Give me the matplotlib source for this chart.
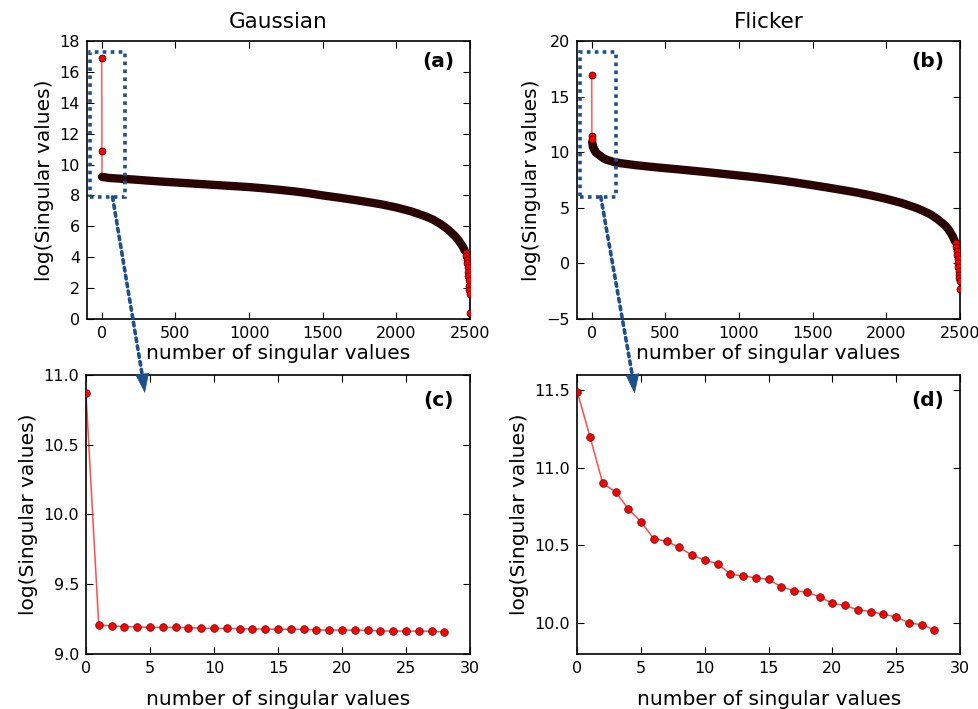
import matplotlib

matplotlib.use("Agg")
import matplotlib.pyplot as plt
from matplotlib.patches import ConnectionPatch, Rectangle

# --- values -------------------------------------------------------------
# Gaussian: first singular value, then indices 1..29 (these are what panel (c)
# shows as 0..28), then a sampled body and the steep tail.
GAUSS_FIRST = 16.9
GAUSS_ZOOM = [10.87, 9.205, 9.203, 9.196, 9.195, 9.191, 9.190, 9.190, 9.189,
              9.185, 9.183, 9.183, 9.182, 9.179, 9.179, 9.178, 9.178, 9.177,
              9.172, 9.172, 9.171, 9.171, 9.170, 9.165, 9.165, 9.164, 9.164,
              9.163, 9.158]
GAUSS_BODY_IDX = [50, 100, 200, 300, 400, 500, 600, 700, 800, 900, 1000,
                  1100, 1200, 1300, 1400, 1500, 1600, 1700, 1800, 1900, 2000,
                  2100, 2200, 2250, 2300, 2350, 2400, 2425, 2450, 2465]
GAUSS_BODY = [9.13, 9.10, 9.04, 8.97, 8.90, 8.84, 8.78, 8.72, 8.66, 8.60,
              8.54, 8.46, 8.37, 8.27, 8.15, 8.00, 7.87, 7.73, 7.58, 7.42,
              7.22, 6.97, 6.64, 6.43, 6.15, 5.80, 5.35, 5.05, 4.70, 4.42]
GAUSS_TAIL_IDX = [2470, 2474, 2478, 2481, 2484, 2487, 2489, 2491, 2493, 2495,
                  2497, 2499]
GAUSS_TAIL = [4.30, 4.10, 3.85, 3.60, 3.35, 3.05, 2.80, 2.50, 2.15, 1.85,
              1.60, 0.40]

FLICK_FIRST = 16.9
FLICK_ZOOM = [11.49, 11.20, 10.90, 10.846, 10.736, 10.652, 10.543, 10.528,
              10.487, 10.437, 10.405, 10.383, 10.314, 10.303, 10.292, 10.281,
              10.232, 10.208, 10.199, 10.169, 10.126, 10.113, 10.084, 10.074,
              10.056, 10.039, 10.000, 9.989, 9.955]
FLICK_BODY_IDX = [50, 80, 100, 150, 200, 300, 400, 500, 600, 700, 800, 900,
                  1000, 1100, 1200, 1300, 1400, 1500, 1600, 1700, 1800, 1900,
                  2000, 2100, 2200, 2250, 2300, 2350, 2400, 2425, 2450, 2465]
FLICK_BODY = [9.75, 9.45, 9.32, 9.12, 9.00, 8.83, 8.69, 8.56, 8.44, 8.31,
              8.18, 8.04, 7.90, 7.76, 7.60, 7.43, 7.24, 7.03, 6.82, 6.60,
              6.37, 6.10, 5.80, 5.45, 5.00, 4.72, 4.40, 3.95, 3.40, 3.00,
              2.45, 2.00]
FLICK_TAIL_IDX = [2470, 2474, 2478, 2481, 2484, 2487, 2489, 2491, 2493, 2495,
                  2497, 2499]
FLICK_TAIL = [1.80, 1.45, 1.10, 0.75, 0.40, 0.00, -0.35, -0.70, -1.05, -1.35,
              -1.60, -2.30]

RED = "red"
BAND = "#2a0303"
BLUE = "#1c4f8c"
DOTS = (0, (1, 1.2))

plt.rcParams.update({
    "font.family": "DejaVu Sans",
    "xtick.direction": "in",
    "ytick.direction": "in",
    "xtick.top": True,
    "ytick.right": True,
    "xtick.major.size": 5,
    "ytick.major.size": 5,
    "xtick.labelsize": 11.5,
    "ytick.labelsize": 11.5,
    "axes.linewidth": 1.2,
    "xtick.major.pad": 5,
    "ytick.major.pad": 5,
})


def draw_top(ax, first, zoom, body_idx, body, tail_idx, tail, band_from):
    idx = [0] + list(range(1, len(zoom) + 1)) + body_idx + tail_idx
    vals = [first] + zoom + body + tail
    ax.plot(idx, vals, color=RED, lw=1, alpha=0.7, zorder=2)
    # 2500 overlapping black-edged markers merge into a dark band
    n_band = len(idx) - len(tail_idx)
    ax.plot(idx[band_from:n_band], vals[band_from:n_band], color=BAND,
            lw=6.0, solid_capstyle="round", solid_joinstyle="round", zorder=3)
    mk = dict(ls="none", marker="o", ms=5, mfc=RED, mec="#300000", mew=0.5,
              zorder=4)
    ax.plot(idx[:band_from], vals[:band_from], **mk)
    ax.plot(tail_idx, tail, **mk)
    ax.set_xlim(-100, 2500)
    ax.set_xticks([0, 500, 1000, 1500, 2000, 2500])
    ax.set_xlabel("number of singular values", fontsize=14.5, labelpad=2)
    ax.set_ylabel("log(Singular values)", fontsize=14.5)


def draw_zoom(ax, vals):
    ax.plot(range(len(vals)), vals, color=RED, lw=1.1, alpha=0.7, zorder=2)
    ax.plot(range(len(vals)), vals, ls="none", marker="o", ms=5.5, mfc=RED,
            mec="#5a2020", mew=0.6, zorder=3)
    ax.set_xlim(0, 30)
    ax.set_xticks(range(0, 31, 5))
    ax.set_xlabel("number of singular values", fontsize=14.5, labelpad=10)
    ax.set_ylabel("log(Singular values)", fontsize=14.5)


def tag(ax, text, y):
    ax.text(0.958, y, text, transform=ax.transAxes, ha="right", va="center",
            fontsize=14.5, fontweight="bold")


fig = plt.figure(figsize=(9.79, 7.09), dpi=100)
ax_a = fig.add_axes([0.0889, 0.5501, 0.3912, 0.3921])
ax_b = fig.add_axes([0.5894, 0.5501, 0.3912, 0.3921])
ax_c = fig.add_axes([0.0878, 0.0776, 0.3923, 0.3935])
ax_d = fig.add_axes([0.5897, 0.0776, 0.3909, 0.3935])

draw_top(ax_a, GAUSS_FIRST, GAUSS_ZOOM, GAUSS_BODY_IDX, GAUSS_BODY,
         GAUSS_TAIL_IDX, GAUSS_TAIL, band_from=2)
ax_a.set_ylim(0, 18)
ax_a.set_yticks(range(0, 19, 2))
ax_a.set_title("Gaussian", fontsize=15.5, pad=9)
tag(ax_a, "(a)", 0.925)

draw_top(ax_b, FLICK_FIRST, FLICK_ZOOM, FLICK_BODY_IDX, FLICK_BODY,
         FLICK_TAIL_IDX, FLICK_TAIL, band_from=3)
ax_b.set_ylim(-5, 20)
ax_b.set_yticks(range(-5, 21, 5))
ax_b.set_title("Flicker", fontsize=15.5, pad=9)
tag(ax_b, "(b)", 0.925)

draw_zoom(ax_c, GAUSS_ZOOM)
ax_c.set_ylim(9.0, 11.0)
ax_c.set_yticks([9.0, 9.5, 10.0, 10.5, 11.0])
ax_c.set_yticklabels(["9.0", "9.5", "10.0", "10.5", "11.0"])
tag(ax_c, "(c)", 0.91)

draw_zoom(ax_d, FLICK_ZOOM)
ax_d.set_ylim(9.8, 11.6)
ax_d.set_yticks([10.0, 10.5, 11.0, 11.5])
ax_d.set_yticklabels(["10.0", "10.5", "11.0", "11.5"])
tag(ax_d, "(d)", 0.91)

# dotted boxes around the zoomed-in region and the arrows down to (c)/(d)
for ax, box, start, sub, neck, end in [
        (ax_a, (-80, 7.9, 237, 9.4), (73, 7.9), ax_c, (4.45, 10.97),
         (4.6, 10.87)),
        (ax_b, (-80, 6.0, 243, 13.0), (61, 6.0), ax_d, (4.35, 11.58),
         (4.5, 11.48))]:
    ax.add_patch(Rectangle(box[:2], box[2], box[3], fill=False, ec=BLUE,
                           lw=2.6, ls=DOTS, clip_on=False, zorder=5))
    line = ConnectionPatch(xyA=start, coordsA=ax.transData, xyB=neck,
                           coordsB=sub.transData, arrowstyle="-",
                           color=BLUE, lw=2.6, ls=DOTS, zorder=6)
    fig.add_artist(line)
    head = ConnectionPatch(xyA=neck, coordsA=sub.transData, xyB=end,
                           coordsB=sub.transData,
                           arrowstyle="-|>,head_length=1.0,head_width=0.35",
                           mutation_scale=13, color=BLUE, lw=0.5,
                           shrinkA=0, shrinkB=0, zorder=6)
    fig.add_artist(head)

fig.savefig("out.png", dpi=100)
